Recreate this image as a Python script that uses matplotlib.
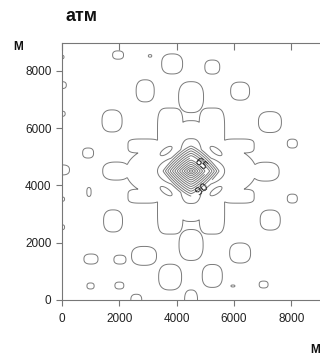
import numpy as np
import matplotlib.pyplot as plt

# closed isolines far from the centre: centre x, centre y, half width, half height (m)
lobe_x = [1955, 3070, 3840, 5240, 2900, 4500, 6210, 1745, 7250, 910, 8030, 1890, 7100,
          940, 8030, 1780, 7260, 1010, 2020, 2860, 4500, 6210, 3770, 5240, 995, 2000,
          5960, 7030, 4500, 2590, 0, 0, 0, 0, 0, 0]
lobe_y = [8550, 8520, 8240, 8130, 7300, 7080, 7290, 6250, 6210, 5130, 5460, 4500, 4480,
          3770, 3540, 2760, 2790, 1430, 1410, 1540, 1920, 1640, 800, 840, 490, 505,
          490, 540, 0, 0, 8480, 7500, 6500, 4540, 3520, 2540]
lobe_rx = [190, 60, 365, 260, 315, 435, 330, 350, 400, 190, 175, 470, 470,
           75, 175, 330, 350, 245, 210, 435, 420, 365, 400, 350, 125, 155,
           70, 155, 225, 190, 70, 150, 110, 260, 90, 90]
lobe_ry = [145, 45, 350, 245, 385, 540, 315, 385, 365, 175, 155, 315, 330,
           155, 155, 385, 350, 175, 155, 330, 540, 350, 450, 400, 105, 120,
           35, 120, 350, 200, 60, 120, 90, 175, 75, 85]

# pieces of the notched square round the centre (same isoline)
block_x = [3775, 5225, 3775, 5225, 4500, 4500, 3715, 5285, 2850, 2850, 6150, 6150]
block_y = [5850, 5850, 3150, 3150, 5700, 3300, 4500, 4500, 5375, 3625, 5375, 3625]
block_rx = [445, 445, 445, 445, 500, 500, 785, 785, 550, 550, 550, 550]
block_ry = [850, 850, 850, 850, 490, 490, 630, 630, 245, 245, 245, 245]

# cross-shaped isoline just outside the dense centre
cross_rx = [1170, 400]
cross_ry = [560, 1130]

# small tilted lobes between the cross and the square
leaf_x = [3630, 5370, 3630, 5370]
leaf_y = [5200, 5200, 3800, 3800]
leaf_rx = [245, 245, 245, 245]
leaf_ry = [100, 100, 100, 100]
leaf_angle = [35, -35, -35, 35]

# centre
x0, y0 = 4500, 4500
p_inf = 130.0
levels = np.arange(35, 101, 5)
label_levels = [65, 90]
label_at = [(4880, 4780), (4920, 3840)]

gx = np.linspace(-600, 9600, 560)
gy = np.linspace(-600, 9600, 560)
X, Y = np.meshgrid(gx, gy)


def lobe(xc, yc, rx, ry, top, level, p, angle=0.0):
    k = np.log(top / level) ** (1.0 / p)
    t = np.deg2rad(angle)
    dx, dy = X - xc, Y - yc
    u = (dx * np.cos(t) + dy * np.sin(t)) / (rx / k)
    v = (-dx * np.sin(t) + dy * np.cos(t)) / (ry / k)
    return top * np.exp(-(np.abs(u) ** p + np.abs(v) ** p))


Z = np.zeros_like(X)
for xc, yc, rx, ry in zip(lobe_x, lobe_y, lobe_rx, lobe_ry):
    Z = np.maximum(Z, lobe(xc, yc, rx, ry, 33, 30, 2.6))
for xc, yc, rx, ry in zip(block_x, block_y, block_rx, block_ry):
    Z = np.maximum(Z, lobe(xc, yc, rx, ry, 33, 30, 4))
Z = np.maximum(Z, lobe(x0, y0, cross_rx[0], cross_ry[0], 37, 35, 2))
Z = np.maximum(Z, lobe(x0, y0, cross_rx[1], cross_ry[1], 37, 35, 3))
for xc, yc, rx, ry, a in zip(leaf_x, leaf_y, leaf_rx, leaf_ry, leaf_angle):
    Z = np.maximum(Z, lobe(xc, yc, rx, ry, 37, 35, 2, a))
q = 1.3
d = ((np.abs(X - x0) / 1633) ** q + (np.abs(Y - y0) / 1598) ** (q * 0.85)) ** (1 / q)
Z = np.maximum(Z, 99.5 * np.clip(1 - d, 0, None))
P = p_inf - Z

fig = plt.figure(figsize=(3.2, 3.56), dpi=100)
ax = fig.add_axes([62 / 320, 56 / 356, 269.6 / 320, 257 / 356])
plain = [l for l in levels if l not in label_levels]
ax.contour(X, Y, P, levels=plain, colors='#7a7a7a', linewidths=0.7)
for lev, pos in zip(label_levels, label_at):
    cl = ax.contour(X, Y, P, levels=[lev], colors='#7a7a7a', linewidths=0.7)
    ax.clabel(cl, fmt='%d', fontsize=8, colors='#222222', manual=[pos])

ax.set_xlim(0, 9400)
ax.set_ylim(0, 8970)
ax.set_xticks([0, 2000, 4000, 6000, 8000])
ax.set_yticks([0, 2000, 4000, 6000, 8000])
ax.spines['right'].set_visible(False)
for s in ['left', 'bottom', 'top']:
    ax.spines[s].set_color('#777777')
    ax.spines[s].set_linewidth(0.8)
ax.tick_params(axis='both', labelsize=8.5, colors='#777777', labelcolor='#222222',
               length=4, width=0.8, direction='out')
ax.tick_params(axis='x', top=True, pad=5)
for t in ax.xaxis.get_major_ticks():
    t.tick2line.set_marker(3)
    t.tick2line.set_markersize(5)

for lab in ax.get_xticklabels() + ax.get_yticklabels():
    lab.set_family('Liberation Sans')

fig.text(65 / 320, 1 - 21 / 356, 'атм', fontsize=13, fontweight='bold',
         family='Liberation Sans', color='#111111')
fig.text(13 / 320, 1 - 50 / 356, 'М', fontsize=8.5, fontweight='bold',
         family='Liberation Sans', color='#111111')
fig.text(310 / 320, 1 - 353 / 356, 'М', fontsize=8.5, fontweight='bold',
         family='Liberation Sans', color='#111111')

fig.savefig('out.png', dpi=100)
